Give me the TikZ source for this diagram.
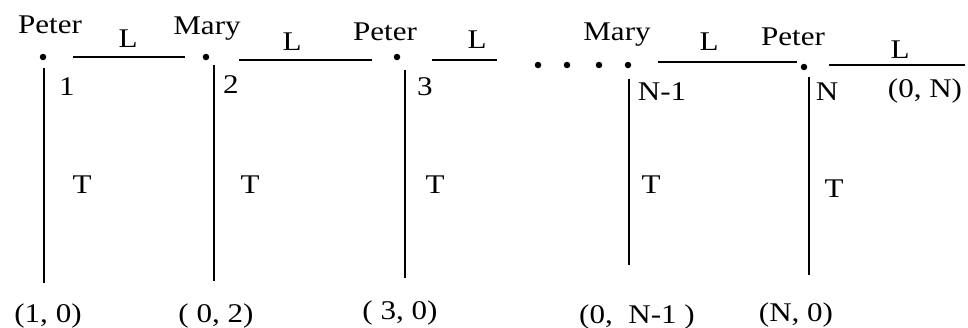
\documentclass[tikz,border=0pt]{standalone}
\usepackage{fontspec}
\setmainfont{Liberation Serif}[FakeStretch=1.15]
\usetikzlibrary{positioning}

\begin{document}
\begin{tikzpicture}[x=1pt, y=-1pt,
  lbl/.style={font=\fontsize{27}{30}\selectfont, anchor=base, inner sep=0pt},
  site/.style={circle, fill, inner sep=0pt, minimum size=6.5pt},
  wire/.style={line width=2.4pt},
]
  \useasboundingbox (0,0) rectangle (968,327);

  % players above each move
  \node[lbl] (who1) at (50,33)  {Peter};
  \node[lbl] (who2) at (207,34) {Mary};
  \node[lbl] (who3) at (385,40) {Peter};
  \node[lbl] (whoM) at (617,40) {Mary};
  \node[lbl] (whoN) at (793,45) {Peter};

  % decision points
  \node[site] (d1) at (43,57)  {};
  \node[site] (d2) at (206,57) {};
  \node[site] (d3) at (397,57) {};
  \node[site] (e1) at (538,65) {};
  \node[site] (e2) at (567,65) {};
  \node[site] (e3) at (599,65) {};
  \node[site] (dM) at (628,65) {};
  \node[site] (dN) at (804,67) {};

  % L branches
  \coordinate (l1a) at (73,57);  \coordinate (l1b) at (185,57);
  \coordinate (l2a) at (239,60); \coordinate (l2b) at (372,60);
  \coordinate (l3a) at (432,60); \coordinate (l3b) at (497,60);
  \coordinate (lMa) at (658,62); \coordinate (lMb) at (797,62);
  \coordinate (lNa) at (829,65); \coordinate (lNb) at (965,65);
  \draw[wire] (l1a) -- (l1b);
  \draw[wire] (l2a) -- (l2b);
  \draw[wire] (l3a) -- (l3b);
  \draw[wire] (lMa) -- (lMb);
  \draw[wire] (lNa) -- (lNb);
  \node[lbl] (L1) at (128,47) {L};
  \node[lbl] (L2) at (292,50) {L};
  \node[lbl] (L3) at (477,48) {L};
  \node[lbl] (LM) at (709,50) {L};
  \node[lbl] (LN) at (900,58) {L};

  % T branches
  \coordinate (t1a) at (44,68);  \coordinate (t1b) at (44,283);
  \coordinate (t2a) at (214,65); \coordinate (t2b) at (214,281);
  \coordinate (t3a) at (405,70); \coordinate (t3b) at (405,278);
  \coordinate (tMa) at (629,79); \coordinate (tMb) at (629,265);
  \coordinate (tNa) at (809,77); \coordinate (tNb) at (809,275);
  \draw[wire] (t1a) -- (t1b);
  \draw[wire] (t2a) -- (t2b);
  \draw[wire] (t3a) -- (t3b);
  \draw[wire] (tMa) -- (tMb);
  \draw[wire] (tNa) -- (tNb);
  \node[lbl] (T1) at (82,193)  {T};
  \node[lbl] (T2) at (250,193) {T};
  \node[lbl] (T3) at (435,193) {T};
  \node[lbl] (TM) at (651,193) {T};
  \node[lbl] (TN) at (834,197) {T};

  % move numbers
  \node[lbl] (n1) at (67,95)  {1};
  \node[lbl] (n2) at (231,93) {2};
  \node[lbl] (n3) at (425,95) {3};
  \node[lbl] (nM) at (662,100) {N-1};
  \node[lbl] (nN) at (827,100) {N};

  % payoffs
  \node[lbl] (p1) at (48,322)  {(1, 0)};
  \node[lbl] (p2) at (216,322) {( 0, 2)};
  \node[lbl] (p3) at (400,319) {( 3, 0)};
  \node[lbl] (pM) at (637,323) {(0,~ N-1 )};
  \node[lbl] (pN) at (796,321) {(N, 0)};
  \node[lbl] (pL) at (925,97)  {(0, N)};
\end{tikzpicture}
\end{document}
